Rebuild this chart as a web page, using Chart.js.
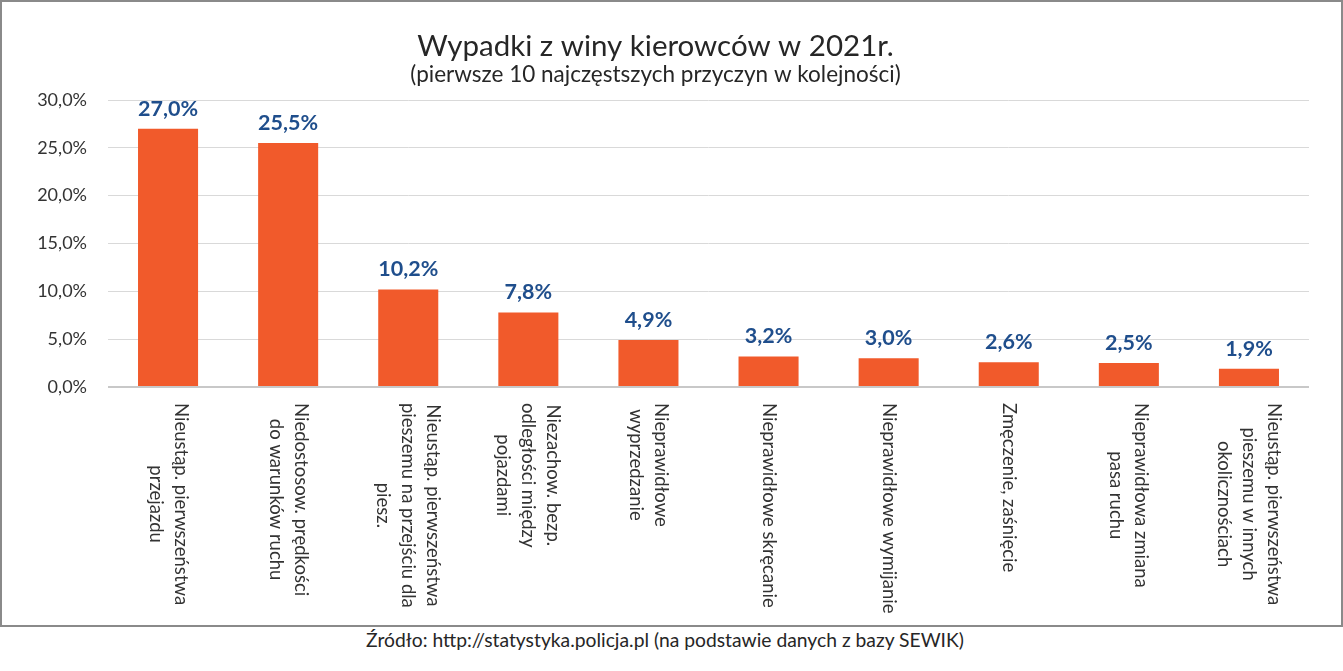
<!DOCTYPE html>
<html>
<head>
<meta charset="utf-8">
<script src="https://cdn.jsdelivr.net/npm/chart.js@4/dist/chart.umd.min.js"></script>
<style>
  html, body { margin: 0; padding: 0; background: #fff; }
  #box { position: absolute; left: 0; top: 0; width: 1343px; height: 627px; box-sizing: border-box; border: 2px solid #8a8a8a; }
  #wrap { position: absolute; left: 0; top: 0; width: 1339px; height: 623px; }
  #footer { position: absolute; left: 0; top: 627px; width: 1330px; height: 26px; line-height: 26px; text-align: center;
            font-family: Lato, "Open Sans", sans-serif; font-size: 19.3px; color: #262626; }
</style>
</head>
<body>
<div id="box"><div id="wrap"><canvas id="c"></canvas></div></div>
<div id="footer">Źródło: http://statystyka.policja.pl (na podstawie danych z bazy SEWIK)</div>
<script>
const titleText = 'Wypadki z winy kierowców w 2021r.';
const subtitleText = '(pierwsze 10 najczęstszych przyczyn w kolejności)';
const categories = [
  ['Nieustąp. pierwszeństwa', 'przejazdu'],
  ['Niedostosow. prędkości', 'do warunków ruchu'],
  ['Nieustąp. pierwszeństwa', 'pieszemu na przejściu dla', 'piesz.'],
  ['Niezachow. bezp.', 'odległości między', 'pojazdami'],
  ['Nieprawidłowe', 'wyprzedzanie'],
  ['Nieprawidłowe skręcanie'],
  ['Nieprawidłowe wymijanie'],
  ['Zmęczenie, zaśnięcie'],
  ['Nieprawidłowa zmiana', 'pasa ruchu'],
  ['Nieustąp. pierwszeństwa', 'pieszemu w innych', 'okolicznościach']
];
const shares = [27.0, 25.5, 10.2, 7.8, 4.9, 3.2, 3.0, 2.6, 2.5, 1.9];
const yMin = 0, yMax = 30, yStep = 5;

const FONT = 'Lato, "Open Sans", sans-serif';
const fmt = v => v.toFixed(1).replace('.', ',') + '%';

const valueLabels = {
  id: 'valueLabels',
  afterDatasetsDraw(chart) {
    const ctx = chart.ctx;
    const meta = chart.getDatasetMeta(0);
    const vals = chart.data.datasets[0].data;
    ctx.save();
    ctx.font = 'bold 21.5px ' + FONT;
    ctx.fillStyle = '#1F4E8C';
    ctx.textAlign = 'center';
    ctx.textBaseline = 'alphabetic';
    meta.data.forEach((bar, i) => {
      ctx.fillText(fmt(vals[i]), bar.x, bar.y - 13);
    });
    ctx.restore();
  }
};

const verticalLabels = {
  id: 'verticalLabels',
  afterDraw(chart) {
    const ctx = chart.ctx;
    const xs = chart.scales.x;
    const lineH = 25;
    ctx.save();
    ctx.font = '18.5px ' + FONT;
    ctx.fillStyle = '#333333';
    ctx.textAlign = 'center';
    ctx.textBaseline = 'middle';
    chart.data.labels.forEach((lines, i) => {
      const x = xs.getPixelForTick(i);
      const top = xs.top + 16;
      const maxW = Math.max(...lines.map(l => ctx.measureText(l).width));
      ctx.save();
      ctx.translate(x, top);
      ctx.rotate(Math.PI / 2);
      lines.forEach((l, j) => {
        ctx.fillText(l, maxW / 2, (j - (lines.length - 1) / 2) * lineH);
      });
      ctx.restore();
    });
    ctx.restore();
  }
};

new Chart(document.getElementById('c'), {
  type: 'bar',
  data: {
    labels: categories,
    datasets: [{
      data: shares,
      backgroundColor: '#F15A2B',
      borderWidth: 0,
      barPercentage: 0.5,
      categoryPercentage: 1.0
    }]
  },
  options: {
    responsive: true,
    maintainAspectRatio: false,
    animation: false,
    layout: { padding: { left: 0, right: 32, top: 0, bottom: 0 } },
    plugins: {
      legend: { display: false },
      tooltip: { enabled: false },
      title: {
        display: true,
        text: titleText,
        color: '#262626',
        font: { family: FONT, size: 29.5, weight: 'normal', lineHeight: 1.0 },
        padding: { top: 30, bottom: 0 }
      },
      subtitle: {
        display: true,
        text: subtitleText,
        color: '#262626',
        font: { family: FONT, size: 22.5, weight: 'normal', lineHeight: 1.0 },
        padding: { top: 2, bottom: 14 }
      }
    },
    scales: {
      x: {
        grid: { display: false },
        border: { display: false },
        ticks: { display: false },
        afterFit(scale) { scale.height = 238; }
      },
      y: {
        min: yMin,
        max: yMax,
        ticks: {
          stepSize: yStep,
          padding: 21,
          color: '#333333',
          font: { family: FONT, size: 18 },
          callback: v => fmt(v)
        },
        grid: {
          drawTicks: false,
          color: c => (c.tick && c.tick.value === 0) ? '#C8C8C8' : '#D9D9D9',
          lineWidth: c => (c.tick && c.tick.value === 0) ? 2 : 1
        },
        border: { display: false },
        afterFit(scale) { scale.width = 106; }
      }
    }
  },
  plugins: [valueLabels, verticalLabels]
});
</script>
</body>
</html>
